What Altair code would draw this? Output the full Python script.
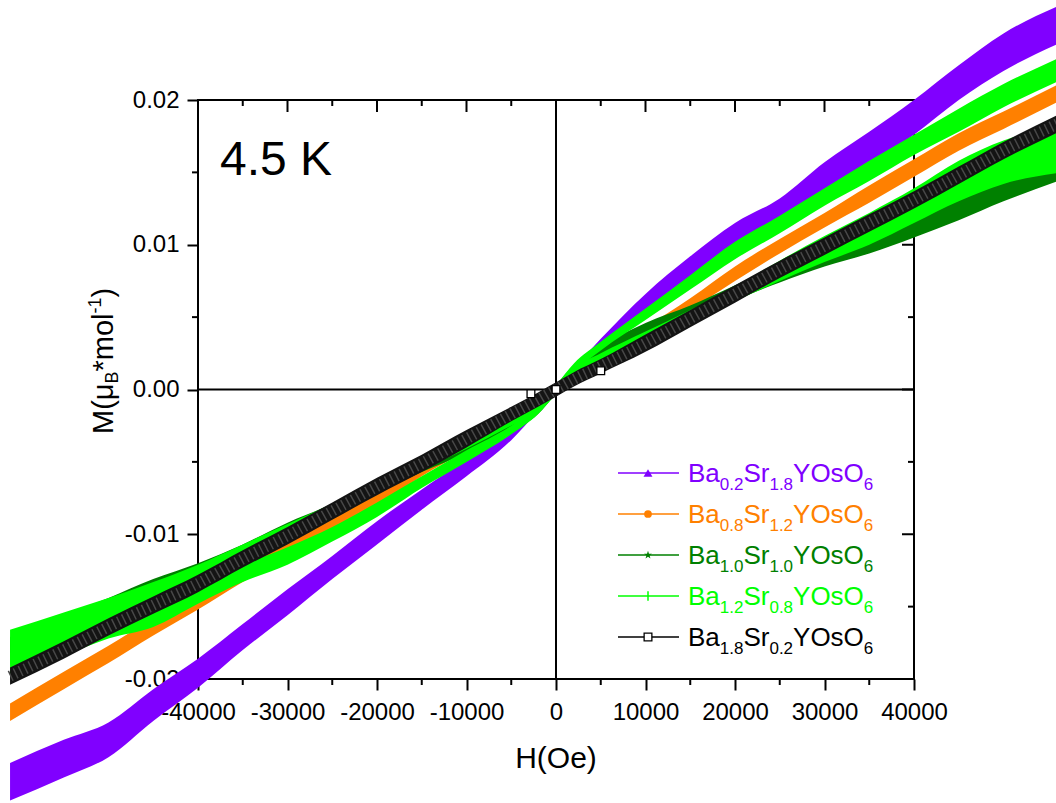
import altair as alt
import pandas as pd

# ------------------------------------------------------------------
# Data (H in kOe, M in mu_B per mol)
# each series: centre of the measured band and its half-thickness
# ------------------------------------------------------------------
H_KOE = [-61, -55, -50, -45, -40, -35, -30, -25, -20, -15, -10, -5, -2, 0,
         2, 5, 10, 15, 20, 25, 30, 35, 40, 45, 50, 56.5]

M_BA02 = [-0.0271, -0.0255, -0.0242, -0.0218, -0.0196, -0.0171, -0.0147, -0.0123, -0.0099,
          -0.0076, -0.0054, -0.0030, -0.0012, 0.0, 0.0012, 0.0030, 0.0060, 0.0085, 0.0107,
          0.0123, 0.0147, 0.0167, 0.0188, 0.0212, 0.0233, 0.0253]
S_BA02 = [0.0013, 0.0013, 0.0012, 0.0011, 0.0010, 0.0009, 0.0009, 0.0008, 0.0008, 0.0007,
          0.0006, 0.0005, 0.0003, 0.0002, 0.0003, 0.0005, 0.0006, 0.0007, 0.0008, 0.0009,
          0.0010, 0.0011, 0.0012, 0.0012, 0.0013, 0.0013]

M_BA08 = [-0.0223, -0.0201, -0.0183, -0.0164, -0.0146, -0.0128, -0.0110, -0.0092, -0.0075,
          -0.0056, -0.0038, -0.0019, -0.0008, 0.0, 0.0008, 0.0019, 0.0039, 0.0059, 0.0080,
          0.0099, 0.0117, 0.0135, 0.0153, 0.0171, 0.0186, 0.0206]
S_BA08 = [0.0006, 0.0006, 0.0006, 0.0006, 0.0006, 0.0005, 0.0005, 0.0005, 0.0005, 0.0004,
          0.0004, 0.0004, 0.0003, 0.0003, 0.0003, 0.0004, 0.0004, 0.0004, 0.0005, 0.0005,
          0.0005, 0.0006, 0.0006, 0.0006, 0.0006, 0.0006]

M_BA10 = [-0.0180, -0.0165, -0.0152, -0.0138, -0.0126, -0.0112, -0.0097, -0.0083, -0.0068,
          -0.0053, -0.0040, -0.0026, -0.0014, 0.0, 0.0014, 0.0027, 0.0042, 0.0054, 0.0067,
          0.0080, 0.0092, 0.0102, 0.0114, 0.0127, 0.0141, 0.0158]
S_BA10 = [0.0009, 0.0009, 0.0008, 0.0007, 0.0006, 0.0005, 0.0005, 0.0004, 0.0004, 0.0004,
          0.0004, 0.0003, 0.0003, 0.0003, 0.0003, 0.0003, 0.0004, 0.0004, 0.0005, 0.0006,
          0.0007, 0.0008, 0.0009, 0.0010, 0.0011, 0.0013]

# Ba1.2Sr0.8 shows two branches (steep and shallow)
M_BA12_A = [-0.0190, -0.0176, -0.0165, -0.0157, -0.0141, -0.0127, -0.0115, -0.0100, -0.0083,
            -0.0064, -0.0046, -0.0028, -0.0014, 0.0, 0.0015, 0.0030, 0.0052, 0.0074, 0.0096,
            0.0114, 0.0133, 0.0151, 0.0169, 0.0186, 0.0203, 0.0222]
S_BA12_A = [0.0008, 0.0008, 0.0007, 0.0007, 0.0007, 0.0006, 0.0006, 0.0005, 0.0005, 0.0004,
            0.0004, 0.0003, 0.0003, 0.0003, 0.0003, 0.0003, 0.0004, 0.0005, 0.0006, 0.0006,
            0.0006, 0.0007, 0.0007, 0.0008, 0.0008, 0.0008]
M_BA12_B = [-0.0178, -0.0166, -0.0155, -0.0143, -0.0129, -0.0114, -0.0099, -0.0084, -0.0068,
            -0.0052, -0.0038, -0.0022, -0.0012, 0.0, 0.0012, 0.0022, 0.0037, 0.0051, 0.0066,
            0.0082, 0.0097, 0.0111, 0.0127, 0.0144, 0.0157, 0.0166]
S_BA12_B = [0.0012, 0.0012, 0.0011, 0.0010, 0.0008, 0.0007, 0.0006, 0.0005, 0.0004, 0.0004,
            0.0003, 0.0003, 0.0003, 0.0003, 0.0003, 0.0003, 0.0003, 0.0004, 0.0005, 0.0007,
            0.0009, 0.0011, 0.0012, 0.0014, 0.0015, 0.0016]

M_BA18 = [-0.0198, -0.0180, -0.0164, -0.0149, -0.0134, -0.0117, -0.0101, -0.0084, -0.0067,
          -0.0051, -0.0034, -0.0017, -0.0007, 0.0, 0.0007, 0.0016, 0.0032, 0.0049, 0.0066,
          0.0083, 0.0099, 0.0115, 0.0131, 0.0148, 0.0165, 0.0185]
S_BA18 = [0.0006, 0.0006, 0.0006, 0.0006, 0.0006, 0.0006, 0.0006, 0.0006, 0.0006, 0.0006,
          0.0006, 0.0005, 0.0005, 0.0005, 0.0005, 0.0005, 0.0006, 0.0006, 0.0006, 0.0006,
          0.0006, 0.0006, 0.0006, 0.0006, 0.0006, 0.0006]

# first sparse points of the Ba1.8 sweep (open squares)
H_BA18_SPARSE = [-2800, 0, 5000]
M_BA18_SPARSE = [-0.0003, 0.0, 0.0013]

X_MAJOR = [-40000, -30000, -20000, -10000, 0, 10000, 20000, 30000, 40000]
X_MINOR = [-35000, -25000, -15000, -5000, 5000, 15000, 25000, 35000]
Y_MAJOR = [-0.02, -0.01, 0.0, 0.01, 0.02]
Y_MINOR = [-0.015, -0.005, 0.005, 0.015]

PURPLE = "#8000ff"
ORANGE = "#ff8000"
DKGREEN = "#008000"
GREEN = "#00ff00"
BLACK = "#000000"

LEGEND_NAMES = [
    [("Ba", 0), ("0.2", 1), ("Sr", 0), ("1.8", 1), ("YOsO", 0), ("6", 1)],
    [("Ba", 0), ("0.8", 1), ("Sr", 0), ("1.2", 1), ("YOsO", 0), ("6", 1)],
    [("Ba", 0), ("1.0", 1), ("Sr", 0), ("1.0", 1), ("YOsO", 0), ("6", 1)],
    [("Ba", 0), ("1.2", 1), ("Sr", 0), ("0.8", 1), ("YOsO", 0), ("6", 1)],
    [("Ba", 0), ("1.8", 1), ("Sr", 0), ("0.2", 1), ("YOsO", 0), ("6", 1)],
]
LEGEND_COLORS = [PURPLE, ORANGE, DKGREEN, GREEN, BLACK]

# ------------------------------------------------------------------
# layout
# ------------------------------------------------------------------
W, HGT = 716, 579
FONT = "Liberation Sans"
CW = {'B': 0.667, 'a': 0.556, 'S': 0.667, 'r': 0.333, 'Y': 0.667, 'O': 0.778, 's': 0.5,
      '.': 0.278, 'M': 0.833, '(': 0.333, ')': 0.333, 'μ': 0.576, '*': 0.389, 'm': 0.833,
      'o': 0.556, 'l': 0.222, '-': 0.333}


def tw(text, size):
    return sum(CW.get(c, 0.556) for c in text) * size


xs = alt.Scale(domain=[-40000, 40000], nice=False, zero=False)
ys = alt.Scale(domain=[-0.02, 0.02], nice=False, zero=False)

X_AXIS = alt.Axis(values=X_MAJOR, labelExpr="'' + datum.value", title=None, domain=False,
                  tickSize=11, tickWidth=2, tickColor="black", labelFontSize=24,
                  labelFont=FONT, labelColor="black", labelPadding=10, grid=False,
                  labelFlush=False, orient="bottom")
Y_AXIS = alt.Axis(values=Y_MAJOR, labelExpr="datum.value == 0 ? '0.00' : '' + datum.value",
                  title=None, domain=False, tickSize=11, tickWidth=2, tickColor="black",
                  labelFontSize=24, labelFont=FONT, labelColor="black", labelPadding=8,
                  grid=False, labelFlush=False, orient="left")


def XE(field):
    return alt.X(field, scale=xs, axis=X_AXIS)


def YE(field):
    return alt.Y(field, scale=ys, axis=Y_AXIS)


def band_df(m, s):
    return pd.DataFrame({
        "H": [h * 1000 for h in H_KOE],
        "M": m,
        "lo": [a - b for a, b in zip(m, s)],
        "hi": [a + b for a, b in zip(m, s)],
    })


def band(m, s, color):
    return alt.Chart(band_df(m, s)).mark_area(color=color, opacity=1, interpolate="monotone").encode(
        x=XE("H:Q"), y=YE("lo:Q"), y2="hi:Q")


# zero lines
vzero = alt.Chart(pd.DataFrame({"H": [0]})).mark_rule(color="black", strokeWidth=2).encode(
    x=XE("H:Q"))
hzero = alt.Chart(pd.DataFrame({"M": [0.0]})).mark_rule(color="black", strokeWidth=2).encode(
    y=YE("M:Q"))

xmaj = pd.DataFrame({"v": X_MAJOR})
xmin = pd.DataFrame({"v": X_MINOR})
ymaj = pd.DataFrame({"v": Y_MAJOR})
ymin = pd.DataFrame({"v": Y_MINOR})


def xticks(df, y0, y1):
    return alt.Chart(df).mark_rule(color="black", strokeWidth=2).encode(
        x=XE("v:Q"), y=alt.value(y0), y2=alt.value(y1))


def yticks(df, x0, x1):
    return alt.Chart(df).mark_rule(color="black", strokeWidth=2).encode(
        y=YE("v:Q"), x=alt.value(x0), x2=alt.value(x1))


ticks = [
    xticks(xmin, HGT, HGT + 6),          # bottom minor (outward)
    xticks(xmaj, 0, 12),                 # top major (inward)
    xticks(xmin, 0, 6),                  # top minor
    yticks(ymin, -6, 0),                 # left minor (outward)
    yticks(ymaj, W - 12, W),             # right major (inward)
    yticks(ymin, W - 6, W),              # right minor
]

# texture of the densely packed open squares of the Ba1.8 band
black_texture = alt.Chart(band_df(M_BA18, S_BA18)).mark_line(
    color="#484848", strokeWidth=11, strokeDash=[1.5, 4], interpolate="monotone").encode(
    x=XE("H:Q"), y=YE("M:Q"))

sparse = alt.Chart(pd.DataFrame({"H": H_BA18_SPARSE, "M": M_BA18_SPARSE})).mark_point(
    shape="square", filled=True, fill="white", stroke="black", strokeWidth=1.3, size=60,
    opacity=1).encode(x=XE("H:Q"), y=YE("M:Q"))

# ------------------------------------------------------------------
# text pieces (legend, labels with sub/superscripts)
# ------------------------------------------------------------------
LX0, LX1, LXM, LXT = 420, 481, 450, 490
LY0, LDY = 373, 41
MAIN, SUB = 26, 17

rows_lines, rows_text = [], []
for i, (parts, col) in enumerate(zip(LEGEND_NAMES, LEGEND_COLORS)):
    yl = LY0 + LDY * i
    rows_lines.append({"x": LX0, "x2": LX1, "y": yl, "c": col, "row": i, "xm": LXM})
    x = LXT
    for txt, sub in parts:
        size = SUB if sub else MAIN
        rows_text.append({"x": x, "y": yl + (17 if sub else 9), "t": txt, "s": size, "c": col})
        x += tw(txt, size)

# y-axis title, rotated, built upward
YT = [("M(μ", 29, 0), ("B", 18, 1), ("*mol", 29, 0), ("-1", 18, 2), (")", 29, 0)]
ytitle = []
ypos = 334
for txt, size, kind in YT:
    xb = {0: -85, 1: -80, 2: -97}[kind]
    ytitle.append({"x": xb, "y": ypos, "t": txt, "s": size, "c": "black"})
    ypos -= tw(txt, size)

plain_text = rows_text + [
    {"x": 22, "y": 75, "t": "4.5 K", "s": 48, "c": "black"},
]

ldf = pd.DataFrame(rows_lines)

leg_lines = alt.Chart(ldf).mark_rule(strokeWidth=1.3).encode(
    x=alt.X("x:Q", scale=None), x2="x2:Q", y=alt.Y("y:Q", scale=None),
    color=alt.Color("c:N", scale=None))


def leg_marker(row, **kw):
    return alt.Chart(ldf[ldf.row == row]).mark_point(opacity=1, **kw).encode(
        x=alt.X("xm:Q", scale=None), y=alt.Y("y:Q", scale=None))


STAR = ("M0,-1L0.235,-0.324L0.951,-0.309L0.38,0.124L0.588,0.809L0,0.4L-0.588,0.809"
        "L-0.38,0.124L-0.951,-0.309L-0.235,-0.324Z")
markers = [
    leg_marker(0, shape="triangle-up", filled=True, color=PURPLE, size=80),
    leg_marker(1, shape="circle", filled=True, color=ORANGE, size=60),
    leg_marker(2, shape=STAR, filled=True, color=DKGREEN, size=70),
    leg_marker(3, shape="M0,-1L0,1", filled=False, color=GREEN, size=90, strokeWidth=1.5),
    leg_marker(4, shape="square", filled=True, fill="white", stroke="black", strokeWidth=1.3,
               size=60),
]

texts = alt.Chart(pd.DataFrame(plain_text)).mark_text(
    align="left", baseline="alphabetic", font=FONT).encode(
    x=alt.X("x:Q", scale=None), y=alt.Y("y:Q", scale=None), text="t:N",
    size=alt.Size("s:Q", scale=None), color=alt.Color("c:N", scale=None))

ytexts = alt.Chart(pd.DataFrame(ytitle)).mark_text(
    align="left", baseline="alphabetic", font=FONT, angle=270).encode(
    x=alt.X("x:Q", scale=None), y=alt.Y("y:Q", scale=None), text="t:N",
    size=alt.Size("s:Q", scale=None), color=alt.Color("c:N", scale=None))

xtitle = alt.Chart(pd.DataFrame({"t": ["H(Oe)"]})).mark_text(
    align="center", baseline="alphabetic", font=FONT, fontSize=30, color="black").encode(
    x=alt.value(W / 2), y=alt.value(668), text="t:N")

chart = alt.layer(
    vzero, hzero, *ticks,
    band(M_BA02, S_BA02, PURPLE),
    band(M_BA08, S_BA08, ORANGE),
    band(M_BA10, S_BA10, DKGREEN),
    band(M_BA12_B, S_BA12_B, GREEN),
    band(M_BA12_A, S_BA12_A, GREEN),
    band(M_BA18, S_BA18, "#141414"),
    black_texture,
    sparse,
    leg_lines, *markers, texts, ytexts, xtitle,
).properties(
    width=W, height=HGT,
    padding={"left": 198, "top": 100, "right": 142, "bottom": 124},
    autosize=alt.AutoSizeParams(type="none"),
    background="white",
).configure_view(stroke="black", strokeWidth=2)

chart.save("out.html", embed_options={"renderer": "svg", "actions": False})
